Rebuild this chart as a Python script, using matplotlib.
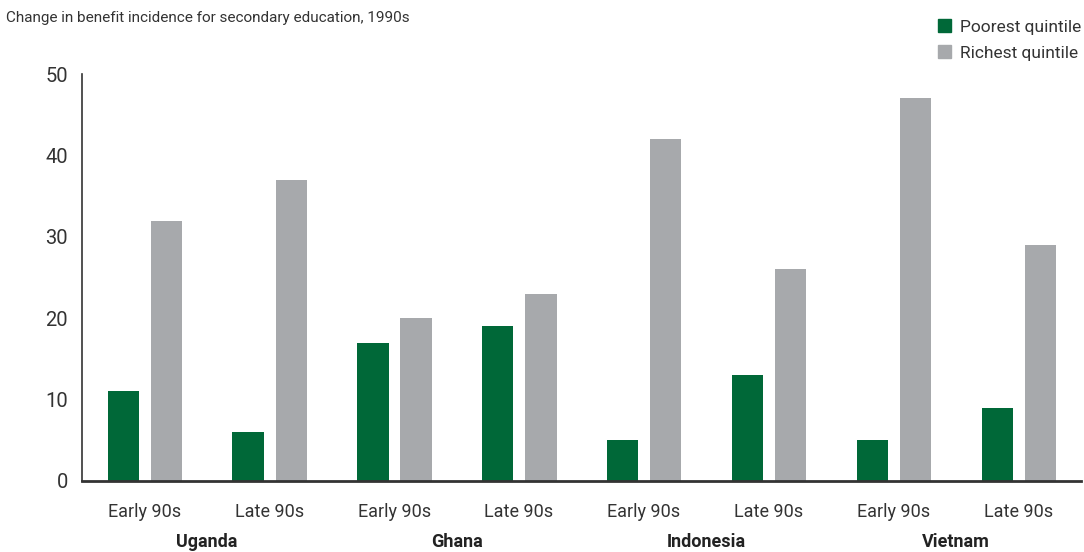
import matplotlib
matplotlib.use("Agg")
import matplotlib.pyplot as plt
from matplotlib.patches import Patch
import numpy as np

countries = ["Uganda", "Ghana", "Indonesia", "Vietnam"]
periods = ["Early 90s", "Late 90s"]
poorest = [11, 6, 17, 19, 5, 13, 5, 9]
richest = [32, 37, 20, 23, 42, 26, 47, 29]
title = "Change in benefit incidence for secondary education, 1990s"

GREEN = "#006838"
GRAY = "#a7a9ac"
TXT = "#333333"

plt.rcParams['font.family'] = ['Liberation Sans Narrow', 'Roboto', 'DejaVu Sans']

fig = plt.figure(figsize=(10.84, 5.52), dpi=100)
ax = fig.add_axes([82/1084, 1-481/552, (1081-82)/1084, (481-74)/552])

x = np.arange(len(poorest))
w = 0.25
ax.bar(x - 0.17, poorest, w, color=GREEN, label="Poorest quintile")
ax.bar(x + 0.175, richest, w, color=GRAY, label="Richest quintile")

ax.set_xlim(-0.5, len(poorest) - 0.5)
ax.set_ylim(0, 50)
ax.set_yticks([0, 10, 20, 30, 40, 50])
ax.tick_params(axis='y', length=0, labelsize=14.5, colors=TXT, pad=10)
ax.tick_params(axis='x', length=0, labelsize=13, colors=TXT, pad=16)
ax.set_xticks(x)
ax.set_xticklabels([periods[i % 2] for i in range(len(x))])
for s in ["top", "right"]:
    ax.spines[s].set_visible(False)
ax.spines["left"].set_color(TXT)
ax.spines["left"].set_linewidth(1.2)
ax.spines["bottom"].set_color(TXT)
ax.spines["bottom"].set_linewidth(2)

for i, c in enumerate(countries):
    ax.text(2 * i + 0.5, -0.15, c, transform=ax.get_xaxis_transform(),
            ha='center', va='center', fontsize=13, fontweight='bold', color='#222222')

fig.text(6/1084, 1-18/552, title, ha='left', va='center', fontsize=11, color=TXT)

handles = [Patch(color=GREEN), Patch(color=GRAY)]
fig.legend(handles, ["Poorest quintile", "Richest quintile"], loc='upper right',
           bbox_to_anchor=(1.012, 0.993), frameon=False, fontsize=12.5,
           handlelength=0.75, handleheight=0.75, handletextpad=0.5,
           labelspacing=0.6, labelcolor=TXT)

fig.savefig("out.png", dpi=100)
